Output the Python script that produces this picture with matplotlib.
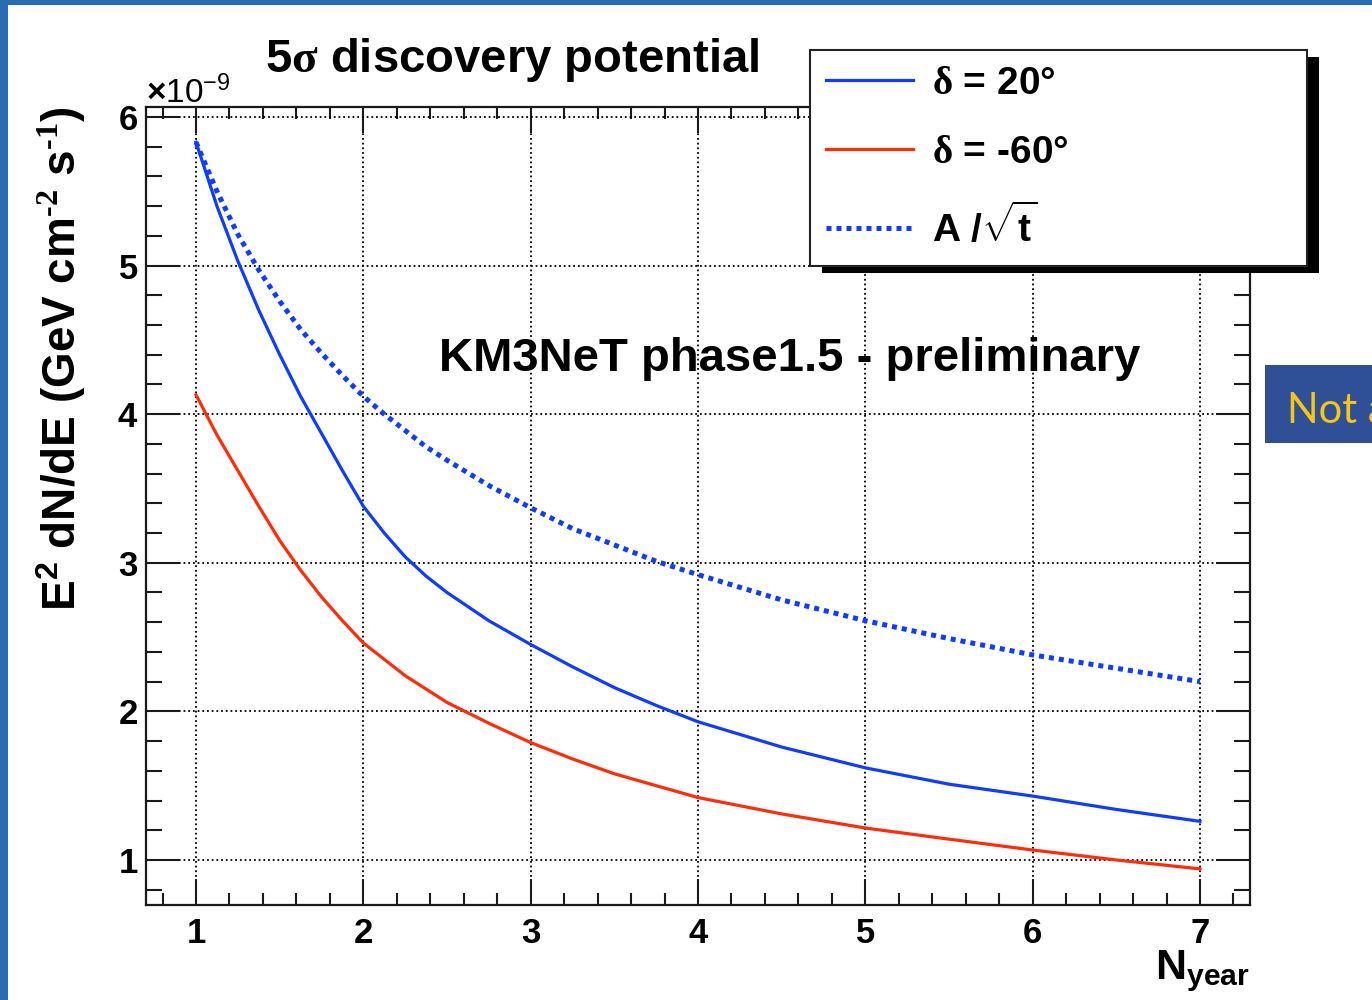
import numpy as np
import matplotlib
matplotlib.use("Agg")
import matplotlib.pyplot as plt
from matplotlib.patches import Rectangle
from matplotlib.ticker import MultipleLocator, ScalarFormatter

plt.rcParams['font.family'] = ['Liberation Sans', 'DejaVu Sans']
plt.rcParams['font.weight'] = 'bold'
plt.rcParams['mathtext.fontset'] = 'custom'
plt.rcParams['mathtext.rm'] = 'Liberation Serif'
plt.rcParams['mathtext.bf'] = 'Liberation Sans:bold'
plt.rcParams['mathtext.sf'] = 'Liberation Sans'
plt.rcParams['mathtext.it'] = 'Liberation Sans:bold:italic'
plt.rcParams['mathtext.default'] = 'bf'

# Observation time in years
n_year = [1.0, 1.125, 1.25, 1.375, 1.5, 1.625, 1.75, 1.875, 2.0, 2.125, 2.25, 2.375,
          2.5, 2.75, 3.0, 3.25, 3.5, 3.75, 4.0, 4.5, 5.0, 5.5, 6.0, 6.5, 7.0]
# 5 sigma discovery flux, in units of 1e-9 GeV cm^-2 s^-1
flux_dec_p20 = [5.83, 5.40, 5.03, 4.70, 4.40, 4.12, 3.87, 3.62, 3.38, 3.20, 3.04, 2.91,
                2.80, 2.61, 2.45, 2.30, 2.16, 2.04, 1.93, 1.76, 1.62, 1.51, 1.43, 1.34,
                1.26]
flux_dec_m60 = [4.13, 3.86, 3.62, 3.38, 3.15, 2.95, 2.77, 2.61, 2.46, 2.35, 2.24, 2.15,
                2.06, 1.92, 1.79, 1.68, 1.58, 1.50, 1.42, 1.31, 1.215, 1.14, 1.067, 1.00,
                0.94]
flux_sqrt_t = [5.83, 5.50, 5.21, 4.97, 4.76, 4.57, 4.41, 4.26, 4.12, 4.00, 3.89, 3.78,
               3.69, 3.52, 3.37, 3.23, 3.12, 3.01, 2.92, 2.75, 2.61, 2.49, 2.38, 2.29,
               2.20]
flux_unit = 1e-9

labels = [r'$\mathrm{\delta}$ = 20°', r'$\mathrm{\delta}$ = -60°', r'A /$\sqrt{\mathbf{t}}$']
title = r'5$\mathrm{\sigma}$ discovery potential'
annotation = 'KM3NeT phase1.5 - preliminary'
y_label = r'E$^{\mathbf{2}}$ dN/dE (GeV cm$^{\text{-2}}$ s$^{\text{-1}}$)'
x_label = r'N$_{\mathbf{year}}$'

blue = '#0f3cff'
red = '#ff2d0a'

W, H = 1372, 1000
fig = plt.figure(figsize=(W / 100, H / 100), dpi=100, facecolor='white')

# slide background edges and side banner
fig.patches.append(Rectangle((0, 0), 8 / W, 1, transform=fig.transFigure,
                             facecolor='#2a6cb4', edgecolor='none', zorder=-5))
fig.patches.append(Rectangle((0, 1 - 5 / H), 1, 5 / H, transform=fig.transFigure,
                             facecolor='#2a6cb4', edgecolor='none', zorder=-5))
fig.patches.append(Rectangle((1265 / W, 1 - 443 / H), 110 / W, 78 / H,
                             transform=fig.transFigure, facecolor='#2f4f97',
                             edgecolor='none', zorder=-4))
fig.text(1287 / W, 1 - 423 / H, 'Not a', family=['Lato', 'DejaVu Sans'],
         fontweight='normal', fontsize=30, color='#f5c518', va='baseline', ha='left')

ax = fig.add_axes([146 / W, 95 / H, 1104 / W, 798 / H])

t = np.array(n_year)
ax.plot(t, np.array(flux_dec_p20) * flux_unit, color=blue, lw=2.3, label=labels[0],
        zorder=3)
ax.plot(t, np.array(flux_dec_m60) * flux_unit, color=red, lw=2.3, label=labels[1],
        zorder=3)
ax.plot(t, np.array(flux_sqrt_t) * flux_unit, color=blue, lw=3.6,
        linestyle=(0, (1, 1)), dash_capstyle='butt', label=labels[2], zorder=3)

ax.set_xlim(0.701, 7.299)
ax.set_ylim(0.697e-9, 6.067e-9)

ax.xaxis.set_major_locator(MultipleLocator(1))
ax.xaxis.set_minor_locator(MultipleLocator(0.2))
ax.yaxis.set_major_locator(MultipleLocator(1e-9))
ax.yaxis.set_minor_locator(MultipleLocator(0.2e-9))
fmt = ScalarFormatter(useMathText=True)
fmt.set_powerlimits((0, 0))
ax.yaxis.set_major_formatter(fmt)

ax.tick_params(which='both', direction='in', top=True, right=True, width=1.5,
               color='#1a1a1a', labelsize=25)
ax.tick_params(axis='x', which='major', length=18.7, pad=8.5)
ax.tick_params(axis='x', which='minor', length=8.6)
ax.tick_params(axis='y', which='major', length=24.5, pad=5.5)
ax.tick_params(axis='y', which='minor', length=11.5)
for lab in ax.get_xticklabels() + ax.get_yticklabels():
    lab.set_fontweight('bold')

for sp in ax.spines.values():
    sp.set_linewidth(1.6)
    sp.set_color('#1a1a1a')

ax.grid(True, which='major', color='black', linestyle=(0, (1, 1.6)), lw=1.3,
        dash_capstyle='butt')

off = ax.yaxis.get_offset_text()
off.set_fontsize(24)
off.set_fontweight('normal')

ax.set_ylabel(y_label, loc='top', fontsize=33, fontweight='bold')
ax.yaxis.set_label_coords((88 - 146) / 1104, 1.0)
ax.set_xlabel(x_label, loc='right', fontsize=31, fontweight='bold')
ax.xaxis.set_label_coords(1.0, (905 - 948) / 798)

ax.text((265 - 146) / 1104, (905 - 72) / 798, title, transform=ax.transAxes,
        fontsize=34, fontweight='bold', ha='left', va='baseline', clip_on=False)
ax.text(0.5833, (905 - 371) / 798, annotation, transform=ax.transAxes,
        fontsize=34, fontweight='bold', ha='center', va='baseline')

handles, hl = ax.get_legend_handles_labels()
leg = fig.legend(handles, hl, loc='upper left',
                 bbox_to_anchor=(810 / W, 1 - 258 / H, 497 / W, 208 / H),
                 bbox_transform=fig.transFigure, mode='expand', borderaxespad=0,
                 fontsize=28, handlelength=2.24, handletextpad=0.5,
                 borderpad=0.4, labelspacing=0.85, fancybox=False,
                 edgecolor='#222222', framealpha=1, facecolor='white')
leg.get_frame().set_linewidth(1.5)
leg.set_zorder(10)

fig.canvas.draw()
bb = leg.get_window_extent()
fig.patches.append(Rectangle((bb.x0 + 12, bb.y0 - 7), bb.width, bb.height,
                             transform=None, facecolor='black', edgecolor='none',
                             zorder=9))

fig.savefig('out.png', dpi=100, facecolor='white')
